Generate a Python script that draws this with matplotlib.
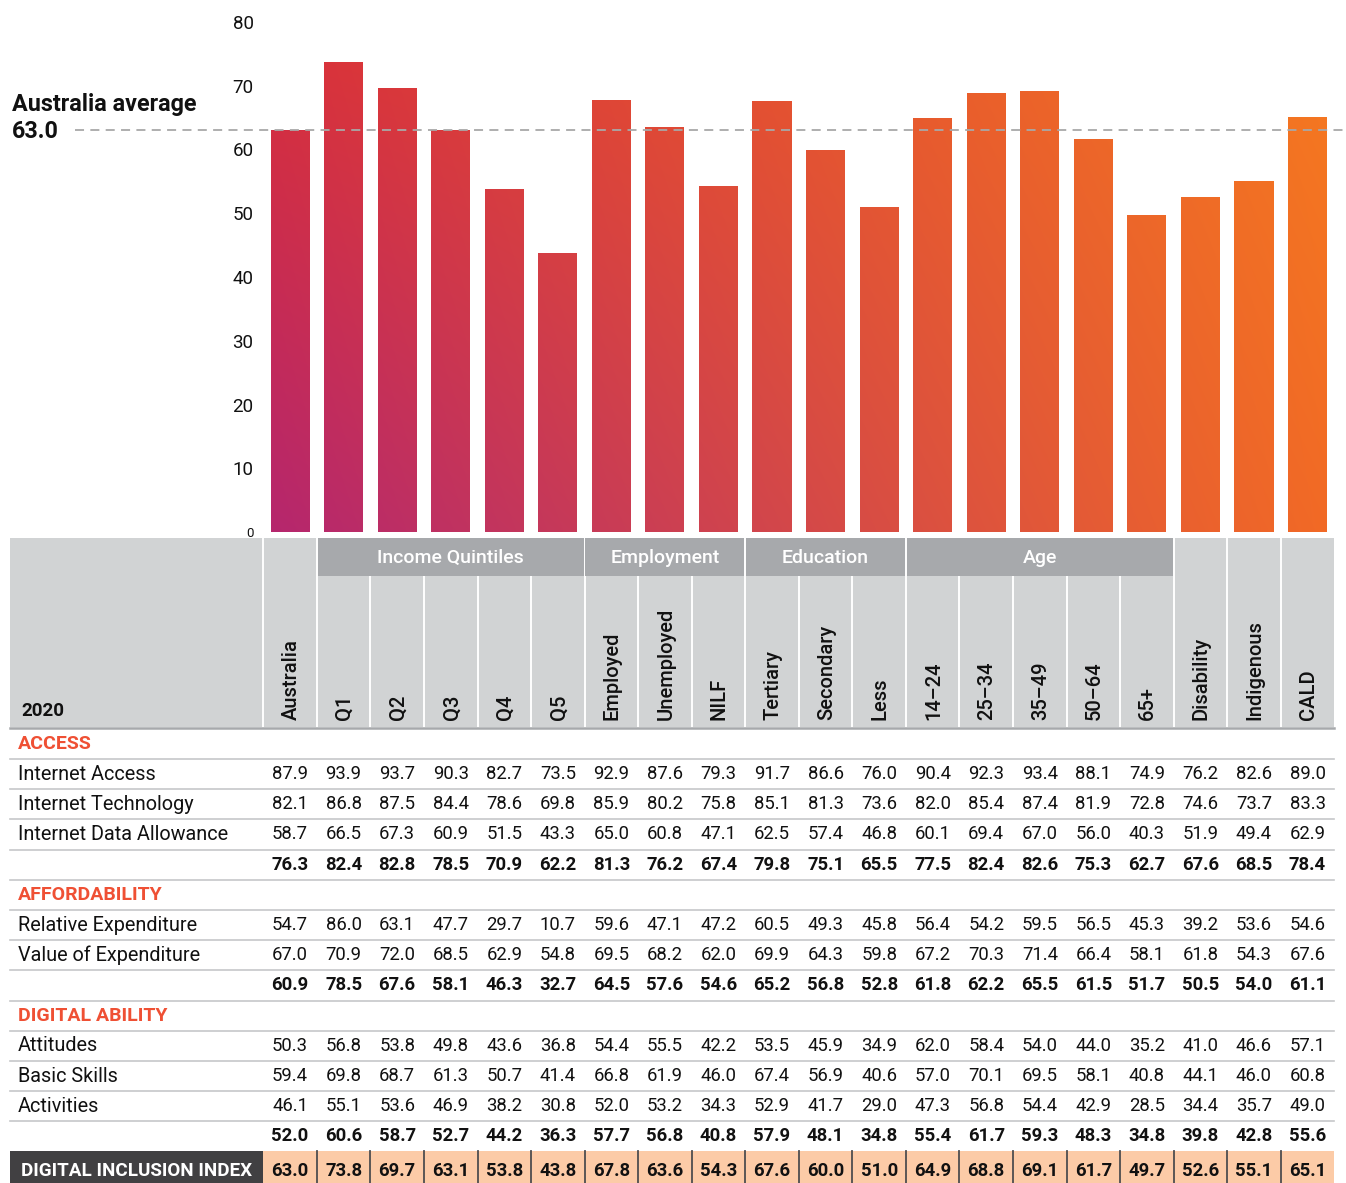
import matplotlib
matplotlib.use("Agg")
import matplotlib.pyplot as plt
import numpy as np
from matplotlib.patches import Rectangle, PathPatch
from matplotlib.path import Path

plt.rcParams["font.family"] = ["Roboto", "DejaVu Sans"]

# ---- data -------------------------------------------------------------
columns = ["Australia", "Q1", "Q2", "Q3", "Q4", "Q5",
           "Employed", "Unemployed", "NILF",
           "Tertiary", "Secondary", "Less",
           "14–24", "25–34", "35–49", "50–64", "65+",
           "Disability", "Indigenous", "CALD"]
groups = [("Income Quintiles", 1, 6), ("Employment", 6, 9),
          ("Education", 9, 12), ("Age", 12, 17)]

internet_access = [87.9, 93.9, 93.7, 90.3, 82.7, 73.5, 92.9, 87.6, 79.3, 91.7,
                   86.6, 76.0, 90.4, 92.3, 93.4, 88.1, 74.9, 76.2, 82.6, 89.0]
internet_technology = [82.1, 86.8, 87.5, 84.4, 78.6, 69.8, 85.9, 80.2, 75.8, 85.1,
                       81.3, 73.6, 82.0, 85.4, 87.4, 81.9, 72.8, 74.6, 73.7, 83.3]
internet_data = [58.7, 66.5, 67.3, 60.9, 51.5, 43.3, 65.0, 60.8, 47.1, 62.5,
                 57.4, 46.8, 60.1, 69.4, 67.0, 56.0, 40.3, 51.9, 49.4, 62.9]
access_total = [76.3, 82.4, 82.8, 78.5, 70.9, 62.2, 81.3, 76.2, 67.4, 79.8,
                75.1, 65.5, 77.5, 82.4, 82.6, 75.3, 62.7, 67.6, 68.5, 78.4]
relative_exp = [54.7, 86.0, 63.1, 47.7, 29.7, 10.7, 59.6, 47.1, 47.2, 60.5,
                49.3, 45.8, 56.4, 54.2, 59.5, 56.5, 45.3, 39.2, 53.6, 54.6]
value_exp = [67.0, 70.9, 72.0, 68.5, 62.9, 54.8, 69.5, 68.2, 62.0, 69.9,
             64.3, 59.8, 67.2, 70.3, 71.4, 66.4, 58.1, 61.8, 54.3, 67.6]
afford_total = [60.9, 78.5, 67.6, 58.1, 46.3, 32.7, 64.5, 57.6, 54.6, 65.2,
                56.8, 52.8, 61.8, 62.2, 65.5, 61.5, 51.7, 50.5, 54.0, 61.1]
attitudes = [50.3, 56.8, 53.8, 49.8, 43.6, 36.8, 54.4, 55.5, 42.2, 53.5,
             45.9, 34.9, 62.0, 58.4, 54.0, 44.0, 35.2, 41.0, 46.6, 57.1]
basic_skills = [59.4, 69.8, 68.7, 61.3, 50.7, 41.4, 66.8, 61.9, 46.0, 67.4,
                56.9, 40.6, 57.0, 70.1, 69.5, 58.1, 40.8, 44.1, 46.0, 60.8]
activities = [46.1, 55.1, 53.6, 46.9, 38.2, 30.8, 52.0, 53.2, 34.3, 52.9,
              41.7, 29.0, 47.3, 56.8, 54.4, 42.9, 28.5, 34.4, 35.7, 49.0]
ability_total = [52.0, 60.6, 58.7, 52.7, 44.2, 36.3, 57.7, 56.8, 40.8, 57.9,
                 48.1, 34.8, 55.4, 61.7, 59.3, 48.3, 34.8, 39.8, 42.8, 55.6]
dii = [63.0, 73.8, 69.7, 63.1, 53.8, 43.8, 67.8, 63.6, 54.3, 67.6,
       60.0, 51.0, 64.9, 68.8, 69.1, 61.7, 49.7, 52.6, 55.1, 65.1]
australia_avg = 63.0

# (kind, label, values)  kind: section / item / total
table_rows = [
    ("section", "ACCESS", None),
    ("item", "Internet Access", internet_access),
    ("item", "Internet Technology", internet_technology),
    ("item", "Internet Data Allowance", internet_data),
    ("total", "", access_total),
    ("section", "AFFORDABILITY", None),
    ("item", "Relative Expenditure", relative_exp),
    ("item", "Value of Expenditure", value_exp),
    ("total", "", afford_total),
    ("section", "DIGITAL ABILITY", None),
    ("item", "Attitudes", attitudes),
    ("item", "Basic Skills", basic_skills),
    ("item", "Activities", activities),
    ("total", "", ability_total),
]

# ---- layout (pixel coords) --------------------------------------------
W, H = 1346, 1183
X0, X_LEFT, COL_W = 10, 263.3, 53.55
ncol = len(columns)
X_RIGHT = X_LEFT + ncol * COL_W
Y_ZERO, Y_TOP = 532, 22
HEAD_TOP, GROUP_BOT, HEAD_BOT = 538, 576, 727
ROW0, ROW_H = 743.8, 30.2
DII_TOP = 1151

LIGHT_GREY = "#D1D3D4"
MID_GREY = "#A7A9AC"
ACCENT = "#EF5034"
INK = "#111111"

fig = plt.figure(figsize=(W / 100, H / 100), dpi=100)

# full-figure axes for the table, in pixels
tab = fig.add_axes([0, 0, 1, 1])
tab.set_xlim(0, W)
tab.set_ylim(H, 0)
tab.axis("off")

# bar axes aligned to table columns
ax = fig.add_axes([X_LEFT / W, (H - Y_ZERO) / H, (X_RIGHT - X_LEFT) / W,
                   (Y_ZERO - Y_TOP) / H])
ax.set_xlim(0, ncol)
ax.set_ylim(0, 80)
for s in ax.spines.values():
    s.set_visible(False)
ax.set_xticks([])
ax.set_yticks(range(0, 81, 10))
ax.set_yticklabels([str(v) for v in range(0, 81, 10)])
ax.tick_params(axis="y", length=0, pad=7, labelsize=13.5, labelcolor=INK)
ax.get_yticklabels()[0].set_fontsize(9.5)
ax.patch.set_alpha(0)

# bars with a 2-D gradient (magenta bottom-left -> red top-left -> orange right)
xpos = np.arange(ncol) + 0.5
bars = ax.bar(xpos, dii, width=0.73, color="none", edgecolor="none")

bl = np.array([0xB5, 0x26, 0x6E]) / 255
tl = np.array([0xDA, 0x30, 0x38]) / 255
br = np.array([0xF2, 0x6A, 0x25]) / 255
tr = np.array([0xF5, 0x7A, 0x20]) / 255
gx = np.linspace(0, 1, 200)[None, :, None]
gy = np.linspace(0, 1, 200)[:, None, None]
grad = (1 - gx) * (1 - gy) * bl + gx * (1 - gy) * br + (1 - gx) * gy * tl + gx * gy * tr
img = ax.imshow(grad, extent=[0, ncol, 0, 80], origin="lower", aspect="auto",
                interpolation="bilinear", zorder=1)
clip = PathPatch(Path.make_compound_path(*[b.get_path().transformed(b.get_patch_transform())
                                           for b in bars]),
                 transform=ax.transData, facecolor="none", edgecolor="none")
ax.add_patch(clip)
img.set_clip_path(clip)

# Australia average dashed line
x_from = (75 - X_LEFT) / COL_W
x_to = (W - X_LEFT) / COL_W
ax.plot([x_from, x_to], [australia_avg, australia_avg], color="#A8A8A8",
        lw=1.3, ls=(0, (5, 3.5)), clip_on=False, zorder=3)
tab.text(12, 104, "Australia average", fontsize=16.8, fontweight="bold",
         ha="left", va="center", color=INK)
tab.text(12, 131, f"{australia_avg:.1f}", fontsize=16.8, fontweight="bold",
         ha="left", va="center", color=INK)

# ---- table header -------------------------------------------------------
tab.add_patch(Rectangle((X0, HEAD_TOP), X_RIGHT - X0, HEAD_BOT - HEAD_TOP,
                        facecolor=LIGHT_GREY, edgecolor="none", zorder=1))
for i in range(ncol):
    x = X_LEFT + i * COL_W
    tab.plot([x, x], [HEAD_TOP, HEAD_BOT], color="white", lw=1.4, zorder=2)
for name, c0, c1 in groups:
    xa = X_LEFT + c0 * COL_W + 0.8
    xb = X_LEFT + c1 * COL_W - 0.8
    tab.add_patch(Rectangle((xa, HEAD_TOP), xb - xa, GROUP_BOT - HEAD_TOP,
                            facecolor=MID_GREY, edgecolor="none", zorder=3))
    tab.text((xa + xb) / 2, (HEAD_TOP + GROUP_BOT) / 2 + 1, name, color="white",
             fontsize=14, fontweight="medium", ha="center", va="center", zorder=4)
for i, name in enumerate(columns):
    tab.text(X_LEFT + (i + 0.5) * COL_W + 1, 720, name, rotation=90, fontsize=14.5,
             fontweight="medium", ha="center", va="bottom", color=INK, zorder=4)
tab.text(21, 711, "2020", fontsize=13.5, fontweight="bold", ha="left",
         va="center", color=INK, zorder=4)
tab.plot([X0, X_RIGHT], [HEAD_BOT + 1, HEAD_BOT + 1], color=MID_GREY, lw=1.8,
         zorder=4)

# ---- table body ---------------------------------------------------------
for r, (kind, label, vals) in enumerate(table_rows):
    y = ROW0 + r * ROW_H
    if kind == "section":
        tab.text(18, y, label, color=ACCENT, fontsize=14, fontweight="bold",
                 ha="left", va="center")
    else:
        weight = "bold" if kind == "total" else "normal"
        if label:
            tab.text(18, y, label, fontsize=14.3, ha="left", va="center",
                     color=INK)
        for i, v in enumerate(vals):
            tab.text(X_LEFT + (i + 0.5) * COL_W, y, f"{v:.1f}", fontsize=13.3,
                     fontweight=weight, ha="center", va="center", color=INK)
    if r < len(table_rows) - 1:
        yl = y + ROW_H / 2
        tab.plot([X0, X_RIGHT], [yl, yl], color="#C6C7C9", lw=1.2)

# ---- digital inclusion index row ---------------------------------------
tab.add_patch(Rectangle((X0, DII_TOP), X_LEFT - X0, H - DII_TOP,
                        facecolor="#414042", edgecolor="none"))
tab.add_patch(Rectangle((X_LEFT, DII_TOP), X_RIGHT - X_LEFT, H - DII_TOP,
                        facecolor="#FCCBA7", edgecolor="none"))
for i in range(1, ncol):
    x = X_LEFT + i * COL_W
    tab.plot([x, x], [DII_TOP, H], color="#4D4D4F", lw=1.3)
yd = (DII_TOP + H) / 2 + 4
tab.text(21, yd, "DIGITAL INCLUSION INDEX", color="white", fontsize=13.6,
         fontweight="bold", ha="left", va="center")
for i, v in enumerate(dii):
    tab.text(X_LEFT + (i + 0.5) * COL_W, yd, f"{v:.1f}", fontsize=13.3,
             fontweight="bold", ha="center", va="center", color=INK)

fig.savefig("out.png", dpi=100)
plt.close(fig)
